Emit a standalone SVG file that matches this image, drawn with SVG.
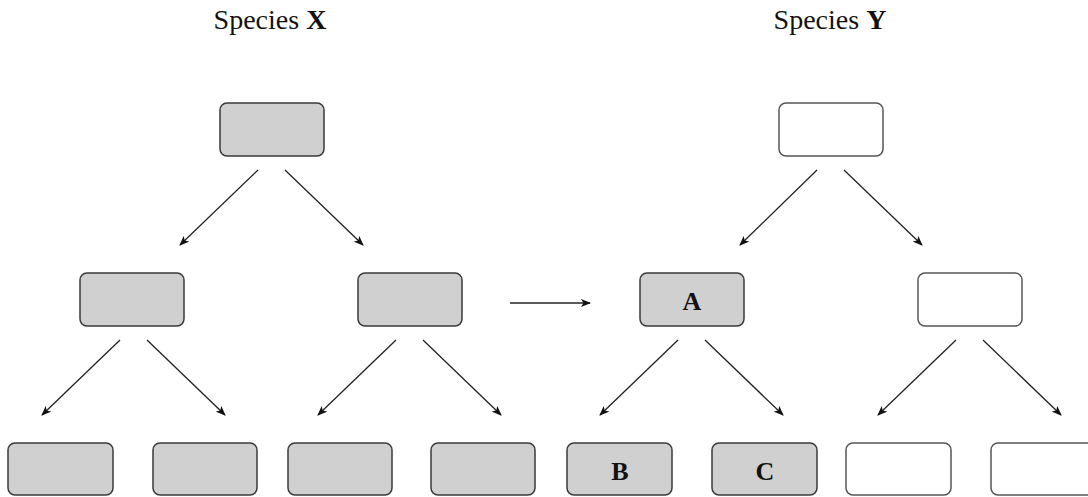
<svg xmlns="http://www.w3.org/2000/svg" width="1088" height="497" viewBox="0 0 1088 497">
<style>
.b{fill:#d0d0d0;stroke:#3a3a3a;stroke-width:1.5}
.w{fill:#fff;stroke:#555;stroke-width:1.5}
.t{font-family:"Liberation Serif","Times New Roman",serif;font-size:28px;fill:#111}
.l{font-family:"Liberation Serif","Times New Roman",serif;font-size:26px;font-weight:bold;fill:#111;text-anchor:middle}
.c{stroke:#222;stroke-width:1.3;fill:none;marker-end:url(#ah)}
</style>
<defs>
<marker id="ah" viewBox="0 0 10 8" refX="9" refY="4" markerWidth="10" markerHeight="8" markerUnits="userSpaceOnUse" orient="auto">
<path d="M0,0 L10,4 L0,8 L2.5,4 Z" fill="#111"/>
</marker>
</defs>
<text class="t" x="270" y="29" text-anchor="middle">Species <tspan font-weight="bold">X</tspan></text>
<text class="t" x="830" y="29" text-anchor="middle">Species <tspan font-weight="bold">Y</tspan></text>
<g id="x-root"><rect class="b" x="220" y="103" width="104" height="53" rx="7"/></g>
<g id="x-l"><rect class="b" x="80" y="273" width="104" height="53" rx="7"/></g>
<g id="x-r"><rect class="b" x="358" y="273" width="104" height="53" rx="7"/></g>
<g id="x-ll"><rect class="b" x="8" y="443" width="105" height="52" rx="7"/></g>
<g id="x-lr"><rect class="b" x="153" y="443" width="104" height="52" rx="7"/></g>
<g id="x-rl"><rect class="b" x="288" y="443" width="104" height="52" rx="7"/></g>
<g id="x-rr"><rect class="b" x="431" y="443" width="104" height="52" rx="7"/></g>
<g id="y-root"><rect class="w" x="779" y="103" width="104" height="53" rx="7"/></g>
<g id="y-a"><rect class="b" x="640" y="273" width="104" height="53" rx="7"/><text class="l" x="692" y="310">A</text></g>
<g id="y-r"><rect class="w" x="918" y="273" width="104" height="53" rx="7"/></g>
<g id="y-b"><rect class="b" x="567" y="443" width="105" height="52" rx="7"/><text class="l" x="620" y="480">B</text></g>
<g id="y-c"><rect class="b" x="712" y="443" width="105" height="52" rx="7"/><text class="l" x="765" y="480">C</text></g>
<g id="y-rl"><rect class="w" x="846" y="443" width="105" height="52" rx="7"/></g>
<g id="y-rr"><rect class="w" x="991" y="443" width="105" height="52" rx="7"/></g>
<g id="connectors">
<line class="c" x1="258" y1="170" x2="180" y2="245"/>
<line class="c" x1="285" y1="170" x2="363" y2="245"/>
<line class="c" x1="120" y1="340" x2="42" y2="415"/>
<line class="c" x1="147" y1="340" x2="225" y2="415"/>
<line class="c" x1="396" y1="340" x2="318" y2="415"/>
<line class="c" x1="423" y1="340" x2="501" y2="415"/>
<line class="c" x1="510" y1="303" x2="590" y2="303"/>
<line class="c" x1="817" y1="170" x2="740" y2="245"/>
<line class="c" x1="844" y1="170" x2="922" y2="245"/>
<line class="c" x1="678" y1="340" x2="600" y2="415"/>
<line class="c" x1="705" y1="340" x2="783" y2="415"/>
<line class="c" x1="956" y1="340" x2="878" y2="415"/>
<line class="c" x1="983" y1="340" x2="1061" y2="415"/>
</g>
</svg>
